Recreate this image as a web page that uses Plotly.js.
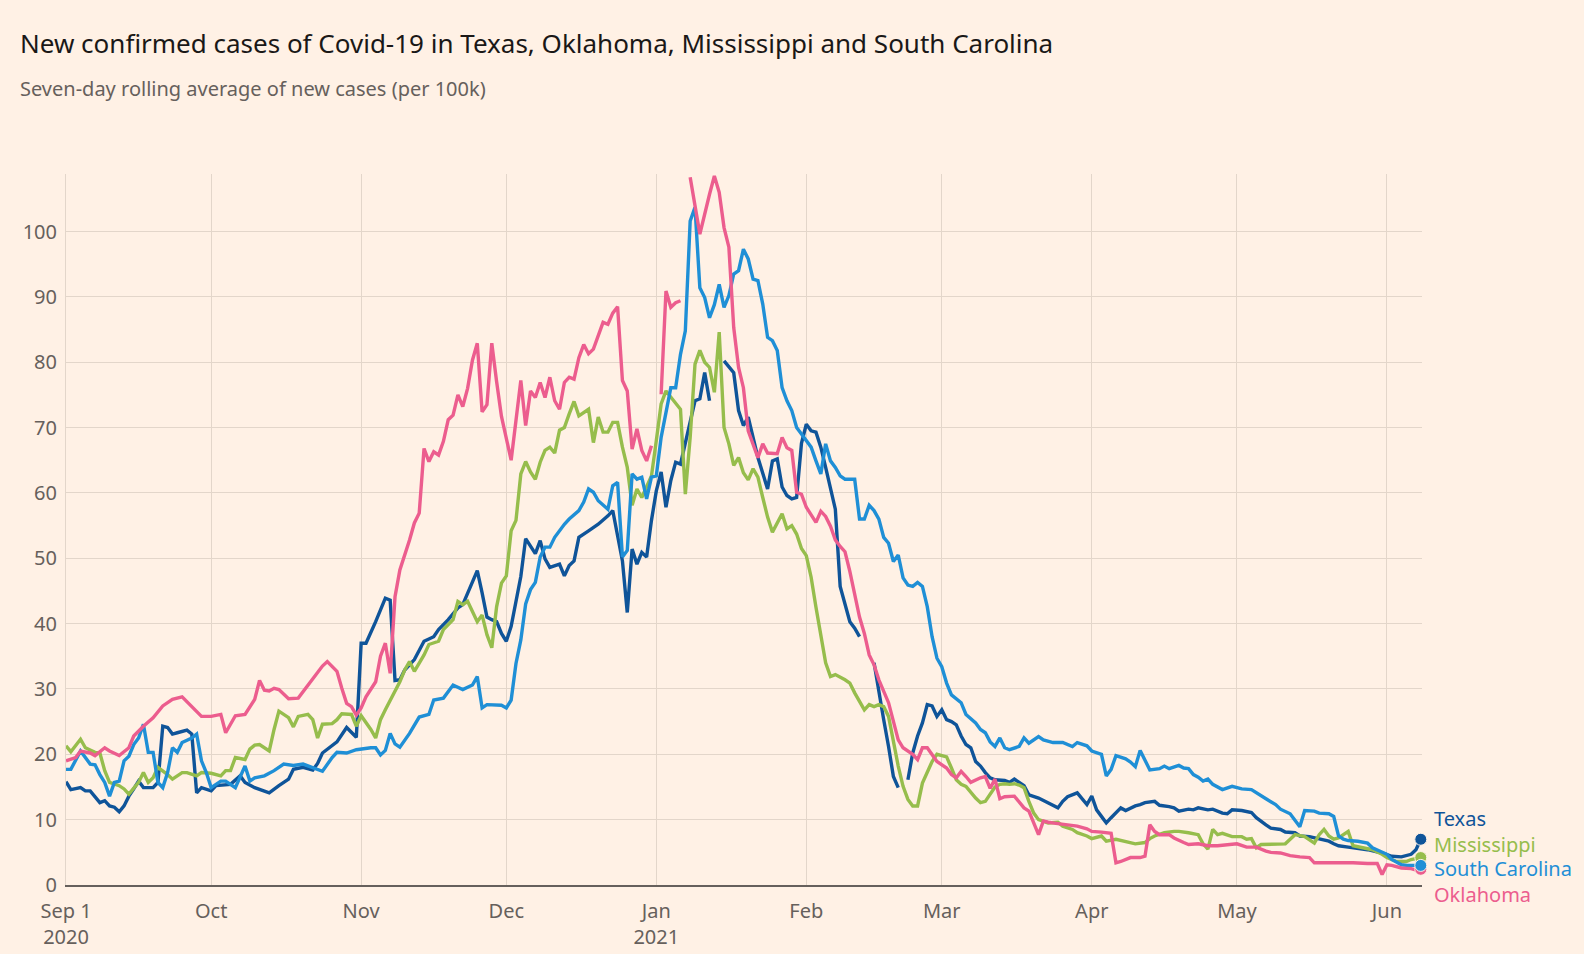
<!DOCTYPE html>
<html>
<head>
<meta charset="utf-8">
<script src="https://cdn.plot.ly/plotly-3.0.1.min.js"></script>
<style>
  html, body { margin: 0; padding: 0; background: #fff1e5; }
  #chart { width: 1584px; height: 954px; }
</style>
</head>
<body>
<div id="chart"></div>
<script>
// ---- Data (days since 1 Sep 2020; values = 7-day avg new cases per 100k; null = gap) ----
const texasDays = [0,1,3,4,5,7,8,9,10,11,12,13,14,15,16,18,19,20,21,22,23,25,26,27,28,30,31,33,34,36,37,39,42,44,46,47,49,51,52,53,55,56,58,59,60,61,62,64,66,67,68,69,70,72,74,76,77,79,81,82,84,85,86,87,88,89,90,91,92,94,95,97,98,99,100,102,103,104,105,106,108,110,112,113,115,116,117,118,119,120,121,122,123,124,125,126,127,130,131,132,133,134,136,138,139,140,141,142,143,145,146,147,148,149,150,151,152,153,154,155,156,157,158,159,160,161,162,163,164,165,167,168,169,170,171,172,173,174,175,176,177,178,179,180,181,182,183,184,185,186,187,188,189,190,191,192,194,195,196,198,199,201,203,205,206,207,209,210,211,212,213,214,215,216,217,218,219,221,222,223,225,226,228,229,230,232,233,234,236,237,239,240,241,243,245,246,248,249,251,252,254,255,257,259,261,262,263,265,269,272,274,276,278,279,280];
const texasVals = [15.8,14.6,14.9,14.4,14.4,12.6,12.9,12.1,11.9,11.2,12.1,13.6,14.7,15.9,14.9,14.9,15.7,24.3,24.1,23.1,23.3,23.7,23.1,14.1,14.9,14.4,15.2,15.4,15.4,16.7,15.7,14.9,14.1,15.2,16.2,17.7,18,17.6,18.6,20.2,21.4,21.9,24.1,23.4,22.6,37,37,40.3,43.9,43.6,31.3,31.4,32.9,34.5,37.3,38,39.1,40.6,42.4,42.9,46.2,48.1,44.7,41,40.6,40.3,38.5,37.3,39.6,47.2,53,50.7,52.7,49.9,48.6,49.1,47.3,48.9,49.6,53.2,54.2,55.2,56.5,57.3,49.6,41.7,51.4,49.1,50.9,50.2,55.8,60.3,63.2,57.8,61.9,64.7,64.4,74.1,74.4,78.4,74.1,null,80.2,78.4,72.6,70.3,71.6,68.5,65.4,60.6,64.9,65.2,60.9,59.6,59.1,59.3,67.6,70.5,69.5,69.3,67,63.9,60.6,57.5,45.7,43.1,40.3,39.3,38,null,34,29.4,25.3,21.2,16.6,14.9,null,16.1,20.2,22.8,24.8,27.6,27.4,25.8,26.8,25.3,25,24.5,22.8,21.5,21,18.9,18.2,17.2,16.4,16.1,16,15.7,16.2,15.2,13.8,13.3,12.6,11.8,12.8,13.5,14.1,13.1,12.3,13.6,11.5,10.5,9.5,10.3,11.1,11.8,11.4,12.1,12.3,12.6,12.8,12.2,12,11.8,11.3,11.6,11.5,11.8,11.5,11.6,11,10.9,11.5,11.4,11.1,10.3,9.2,8.7,8.5,8.1,8,7.5,7.4,7.1,6.7,6.3,6,5.8,5.4,4.9,4.4,4.3,4.7,5.4,7];

const mississippiDays = [0,1,3,4,6,7,8,9,11,12,13,15,16,17,18,19,21,22,24,25,27,28,30,32,33,34,35,37,38,39,40,42,43,44,46,47,48,50,51,52,53,55,56,57,59,60,61,63,64,65,66,68,69,70,71,72,74,75,77,78,80,81,82,83,85,86,87,88,89,90,91,92,93,94,95,96,97,98,99,100,101,102,103,104,105,106,108,109,110,111,112,113,114,115,116,117,118,119,121,122,123,124,125,126,127,128,129,130,131,132,133,134,135,136,137,138,139,140,141,142,143,144,145,146,147,148,149,150,151,152,153,154,155,156,157,158,159,161,162,163,164,165,166,167,168,169,170,171,172,173,174,175,176,177,178,179,180,182,183,184,185,186,188,189,190,191,192,193,194,195,196,197,198,199,200,201,202,203,205,206,208,209,211,212,214,215,217,219,221,223,224,225,227,229,230,232,234,235,236,237,238,239,241,243,244,245,246,247,249,252,253,254,256,258,259,260,261,262,263,265,266,268,270,272,273,275,277,278,280];
const mississippiVals = [21.3,20.4,22.3,21,20.3,20.2,17.5,15.7,15.2,14.7,13.9,15.7,17.2,15.7,16.4,18,16.9,16.2,17.2,17.2,16.7,17.2,17.1,16.7,17.5,17.5,19.5,19.2,20.8,21.4,21.5,20.5,23.8,26.6,25.6,24.2,25.8,26.1,25.3,22.5,24.6,24.7,25.3,26.2,26.1,24.3,25.9,23.8,22.5,25.3,26.8,29.6,31.1,32.9,34.2,32.7,35.2,36.8,37.3,39.1,40.6,43.4,42.9,43.4,40.3,41.3,38.3,36.3,42.6,46.2,47.3,54.2,55.8,62.9,64.8,63.2,62.1,64.7,66.5,67,66.1,69.6,70,72.1,74,71.8,72.8,67.7,71.6,69.3,69.3,70.8,70.8,67,63.9,58.1,60.6,59.3,62.6,68,73.6,75.6,74.6,73.6,72.8,59.8,68.5,79.7,81.8,80,79.2,75.4,84.6,70,67.5,64.2,65.4,63.1,62,63.7,62.4,59.3,56.3,54,55.5,56.8,54.5,55,53.7,51.5,50.4,47.1,42.5,38.5,34,31.9,32.2,31.4,30.9,29.4,28.1,26.8,27.6,27.3,27.6,27.3,25.8,21.7,18.2,15.1,13.1,12.1,12.1,15.6,17.2,18.9,20,19.6,17.9,16.1,15.4,15.1,13.3,12.6,12.8,13.8,15,15.4,15.5,15.4,15.5,15.3,14.9,12.8,11,10,9.8,9.5,9.6,9,8.5,8,7.5,7.1,7.5,6.7,7,6.7,6.3,6.5,7.1,7.5,8,8.2,8.2,8,7.7,6.3,5.5,8.5,7.7,7.9,7.4,7.4,7,7.1,5.7,6.2,6.2,6.3,7,7.7,7.4,6.4,7.7,8.5,7.5,7,7.2,8.2,6,5.7,5.4,4.7,4.2,3.6,3.6,3.9,4.2];

const southCarolinaDays = [0,1,3,4,5,6,7,8,9,10,11,12,13,14,15,16,17,18,19,20,21,22,23,24,26,27,28,29,30,32,33,35,36,37,38,39,41,43,45,47,49,51,53,55,56,58,60,63,64,65,66,67,68,69,71,73,75,76,78,80,82,84,85,86,87,90,91,92,93,94,95,96,97,98,99,100,101,103,104,106,107,108,109,110,111,112,113,114,115,116,117,118,119,120,121,122,123,125,126,127,128,129,130,131,132,133,134,135,136,137,138,139,140,141,142,143,144,145,146,147,148,149,150,151,152,153,154,155,156,157,158,159,160,161,163,164,165,166,167,168,169,170,171,172,173,174,175,176,177,178,179,180,181,182,183,185,186,188,189,190,191,192,193,194,195,197,198,199,201,202,204,206,208,209,211,212,214,215,216,217,219,220,221,222,223,224,226,227,228,230,231,232,233,234,235,236,237,239,241,243,245,246,248,250,251,253,254,255,256,258,259,261,262,263,264,265,267,269,270,272,273,274,276,277,279,280];
const southCarolinaVals = [17.7,17.7,20.5,19.5,18.5,18.4,16.9,15.7,13.6,15.7,15.9,19,19.7,21.5,22.5,24.6,20.3,20.3,15.7,14.9,17.2,21,20.3,21.8,22.5,23.1,19,17.2,14.9,15.9,15.9,14.9,16.7,18.2,15.9,16.4,16.7,17.5,18.5,18.3,18.5,18,17.4,19.5,20.3,20.2,20.7,21,21,19.9,20.6,23.2,21.6,21.1,23.2,25.7,26.1,28.3,28.6,30.6,29.9,30.6,31.9,27.1,27.6,27.5,27.1,28.3,33.9,37.5,43,45.2,46.3,50.2,51.7,51.7,53.2,55.2,56,57.3,58.6,60.6,60.1,58.8,58.1,57.5,61.1,61.6,50.2,51.2,62.9,62.1,62.4,59.1,62.4,62.6,68.5,76.1,76.1,81.2,84.8,101.6,103.7,91.4,89.9,86.8,88.8,91.9,88.4,90.2,93.5,94,97.3,95.8,92.7,92.5,88.9,83.8,83.3,81.8,76.1,74.1,72.6,70,69,68,67,64.9,62.9,67.5,64.9,63.9,62.6,62.1,62.1,56,56,58.1,57.3,56,53.2,52.3,49.5,50.5,47,45.9,45.7,46.3,45.7,42.6,38,34.7,33.4,30.9,29.1,27.9,26.1,24.8,23.8,23.3,21.9,21.2,22.5,21,20.7,21.2,22.5,21.7,22.7,22.2,21.8,21.8,21.2,21.8,21.3,20.5,20,16.7,17.7,19.8,19.3,18.8,18.1,20.6,19.2,17.6,17.8,18.2,17.8,18.3,17.9,17.8,16.9,16.5,15.9,16.2,15.4,14.6,15.1,14.7,14.6,14.1,13.2,12.3,11.6,10.9,9.8,8.9,11.4,11.3,11,10.9,10.5,7.5,7,6.8,6.7,6.4,5.7,5,4.7,3.9,3.1,3,3,3];

const oklahomaDays = [0,2,3,5,6,8,9,11,13,14,16,18,20,22,24,27,28,30,32,33,35,37,39,40,41,42,43,44,46,48,49,51,53,54,56,57,58,59,60,61,62,64,65,66,67,68,69,71,72,73,74,75,76,77,78,79,80,81,82,83,84,85,86,87,88,89,90,92,94,95,96,97,98,99,100,101,102,103,104,105,106,107,108,109,111,112,113,114,115,116,117,118,119,120,121,122,123,124,125,126,127,128,129,130,131,133,134,135,136,137,138,139,140,141,142,143,144,145,147,148,149,150,151,152,153,155,156,157,158,159,160,161,162,163,164,165,166,167,168,170,171,172,173,175,176,177,178,179,180,182,183,184,185,186,187,189,190,191,192,193,194,196,197,198,199,200,201,202,203,205,207,209,211,212,214,216,217,218,220,222,223,224,225,226,228,229,231,232,234,236,238,240,242,244,246,248,249,251,253,255,257,258,260,262,264,266,269,271,272,273,274,276,278,279,280];
const oklahomaVals = [19,19.5,20.5,20.2,19.8,21,20.5,19.8,21,22.8,24.3,25.6,27.4,28.4,28.8,26.6,25.8,25.8,26.1,23.3,25.9,26.1,28.4,31.3,29.8,29.7,30.1,29.9,28.5,28.6,29.6,31.4,33.5,34.2,32.7,30.1,27.8,27.3,26,27.1,28.8,31.1,35,37,32.4,44.1,48.2,52.8,55.4,56.9,66.8,64.8,66.3,65.8,67.9,71.2,71.9,75,73.2,76,80.3,82.9,72.4,73.5,82.9,77,71.7,65,77.2,70.3,75.6,74.6,76.9,74.6,77.7,74.1,72.8,76.9,77.7,77.4,80.7,82.7,81.3,82,86.1,85.8,87.5,88.5,77.2,75.6,66.7,69.8,66.5,64.9,67.2,null,75.1,90.9,88.4,89.1,89.4,null,108.3,104.2,99.6,105.7,108.5,106,100.6,97.6,85.3,79.2,76.1,69.5,67.5,65.4,67.5,66.1,66,68.5,66.9,66.5,60.1,59.8,57.8,55.5,57.2,56.4,54.9,52.8,51.8,51,48,44.7,41,38.5,35.2,33.7,31.4,27.9,24.8,22.2,21,20,19.2,21,21,20,18.9,17.9,16.9,16.4,17.4,16.6,15.7,16.4,16.6,14.8,16.2,13.2,13.5,13.6,12.6,11.8,11.3,9.5,7.7,9.8,9.6,9.4,9.2,9,8.6,8.2,8.1,7.9,3.4,3.6,4.2,4.2,4.4,9.2,8.2,7.7,7.7,7.2,6.5,6.2,6.3,6,6,6.2,6.3,5.8,5.8,5.2,5,4.9,4.5,4.3,4.2,3.4,3.4,3.5,3.5,3.4,3.3,3.3,1.6,3.1,3,2.6,2.5,2.3,2.4];

const seriesNames = ['Texas', 'Mississippi', 'South Carolina', 'Oklahoma'];
const seriesColors = ['#0f5499', '#96bd4c', '#1f8fd6', '#ec5d8e'];
const monthTickDates = ['2020-09-01','2020-10-01','2020-11-01','2020-12-01','2021-01-01','2021-02-01','2021-03-01','2021-04-01','2021-05-01','2021-06-01'];
const monthTickLabels = ['Sep 1<br>2020','Oct','Nov','Dec','Jan<br>2021','Feb','Mar','Apr','May','Jun'];
const yTickValues = [0,10,20,30,40,50,60,70,80,90,100];
const labelYValues = [10.2, 6.2, 2.5, -1.5];
const Y_MAX = 108.8;

// ---- helpers ----
const START = Date.UTC(2020, 8, 1);
function dayToDate(d) { return new Date(START + d * 86400000).toISOString().slice(0, 10); }

const allDays = [texasDays, mississippiDays, southCarolinaDays, oklahomaDays];
const allVals = [texasVals, mississippiVals, southCarolinaVals, oklahomaVals];

const traces = [];
[0, 1, 2, 3].forEach(i => {
  traces.push({
    type: 'scatter', mode: 'lines',
    x: allDays[i].map(dayToDate), y: allVals[i],
    line: { color: seriesColors[i], width: 3.4, shape: 'linear' },
    connectgaps: false, hoverinfo: 'skip', showlegend: false
  });
});
// end dots
[0, 3, 1, 2].forEach(i => {
  const d = allDays[i], v = allVals[i];
  traces.push({
    type: 'scatter', mode: 'markers',
    x: [dayToDate(d[d.length - 1])], y: [v[v.length - 1]],
    marker: { color: seriesColors[i], size: 12, line: { color: '#fff1e5', width: 1 } },
    cliponaxis: false, hoverinfo: 'skip', showlegend: false
  });
});

const FONT = 'Noto Sans, Open Sans, sans-serif';
const annotations = [
  { xref: 'paper', yref: 'paper', x: (18 - 66) / 1356, y: (885.5 - 43) / 711.5, xanchor: 'left', yanchor: 'middle',
    text: 'New confirmed cases of Covid-19 in Texas, Oklahoma, Mississippi and South Carolina',
    showarrow: false, font: { family: FONT, size: 26, color: '#1a1817' } },
  { xref: 'paper', yref: 'paper', x: (18 - 66) / 1356, y: (885.5 - 88) / 711.5, xanchor: 'left', yanchor: 'middle',
    text: 'Seven-day rolling average of new cases (per 100k)',
    showarrow: false, font: { family: FONT, size: 20, color: '#66605c' } }
];
seriesNames.forEach((n, i) => {
  annotations.push({
    xref: 'paper', yref: 'paper', x: 1, y: labelYValues[i] / Y_MAX, xanchor: 'left', yanchor: 'middle', xshift: 10,
    text: n, showarrow: false, font: { family: FONT, size: 20, color: seriesColors[i] }
  });
});

const layout = {
  width: 1584, height: 954,
  margin: { l: 66, r: 162, t: 174, b: 69 },
  paper_bgcolor: '#fff1e5', plot_bgcolor: '#fff1e5',
  font: { family: FONT, color: '#66605c', size: 20 },
  showlegend: false,
  xaxis: {
    type: 'date',
    range: [dayToDate(0), '2021-06-08 06:00'],
    tickmode: 'array', tickvals: monthTickDates, ticktext: monthTickLabels,
    showgrid: true, gridcolor: '#e3d6ca', gridwidth: 1,
    showline: true, linecolor: '#66605c', linewidth: 1.5,
    ticks: '', zeroline: false, ticklabelstandoff: 7,
    tickfont: { family: FONT, size: 20, color: '#66605c' }
  },
  yaxis: {
    range: [0, Y_MAX],
    tickmode: 'array', tickvals: yTickValues,
    showgrid: true, gridcolor: '#e3d6ca', gridwidth: 1,
    showline: true, linecolor: '#e3d6ca', linewidth: 1,
    zeroline: false, ticks: '', ticklabelstandoff: 4,
    tickfont: { family: FONT, size: 20, color: '#66605c' }
  },
  annotations: annotations
};

Plotly.newPlot('chart', traces, layout, { staticPlot: true, displayModeBar: false });
</script>
</body>
</html>
